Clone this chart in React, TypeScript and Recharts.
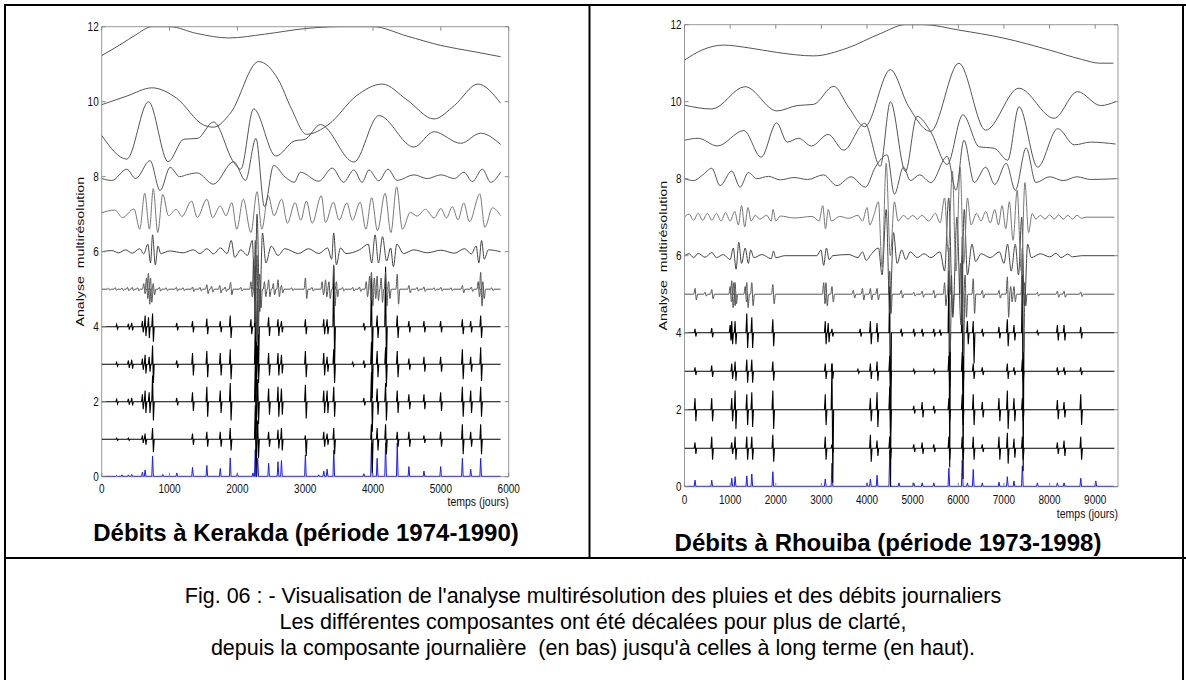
import { Line, LineChart, ReferenceArea, XAxis, YAxis } from "recharts";

type Pt = { x: number; y: number };

const FONT = '"Liberation Sans", Arial, Helvetica, sans-serif';

const yTicks = [0, 2, 4, 6, 8, 10, 12];
const kerTicks = [0, 1000, 2000, 3000, 4000, 5000, 6000];
const rhoTicks = [0, 1000, 2000, 3000, 4000, 5000, 6000, 7000, 8000, 9000];

// ---- Kerakda (left) : [day, value] for the smooth components
const kerA11 = [[0, 11.23], [300, 11.55], [500, 11.78], [740, 12.0], [1000, 12.0], [1400, 11.82], [1870, 11.7], [2400, 11.8], [3000, 11.95], [3500, 12.0], [4000, 12.0], [4500, 11.75], [5000, 11.5], [5500, 11.33], [5880, 11.2]];
const kerA10 = [[0, 9.92], [370, 10.15], [740, 10.37], [1100, 10.1], [1500, 9.38], [1650, 9.32], [1900, 9.7], [2313, 11.07], [2600, 10.6], [2800, 9.8], [3018, 9.13], [3350, 9.4], [3750, 10.15], [4135, 10.47], [4500, 10.05], [4898, 9.54], [5200, 9.9], [5546, 10.47], [5880, 9.96]];
const kerA9 = [[0, 9.1], [370, 8.47], [690, 10.0], [980, 8.4], [1210, 9.0], [1410, 9.02], [1648, 9.46], [1944, 8.39], [2050, 8.2], [2239, 9.81], [2567, 8.55], [2838, 8.95], [3000, 9.0], [3224, 9.39], [3717, 8.39], [4085, 9.63], [4602, 8.79], [4898, 9.2], [5292, 8.89], [5587, 9.16], [5880, 8.86]];
const kerA8 = [[0, 7.95], [150, 7.9], [370, 8.2], [500, 7.95], [713, 8.43], [861, 7.63], [1009, 8.25], [1150, 8.0], [1250, 8.05], [1410, 8.1], [1645, 7.8], [1946, 8.4], [2120, 7.9], [2274, 9.02], [2400, 7.2], [2535, 8.3], [2700, 8.0], [2838, 7.85], [2929, 8.12], [3200, 7.88], [3400, 8.23], [3566, 7.85], [3717, 8.18], [3840, 7.85], [3939, 8.18], [4085, 7.89], [4220, 8.2], [4357, 7.9], [4602, 8.05], [4800, 7.95], [5000, 8.05], [5200, 7.95], [5341, 8.12], [5464, 7.87], [5612, 8.2], [5735, 7.85], [5880, 8.12]];
// [day, offset from the level]
const kerD7 = [[0, 0.04], [194, 0.11], [307, -0.09], [476, 0.14], [561, -0.4], [634, 0.56], [704, -0.4], [760, 0.68], [826, -0.49], [900, 0.53], [985, -0.04], [1098, 0.13], [1183, -0.06], [1324, 0.35], [1409, -0.09], [1550, 0.4], [1635, -0.09], [1748, 0.22], [1833, -0.04], [1918, 0.31], [1991, -0.4], [2087, 0.4], [2200, -0.49], [2290, 0.6], [2360, -0.4], [2455, 0.49], [2540, -0.04], [2653, 0.4], [2738, -0.24], [2850, 0.31], [2935, -0.16], [3018, 0.35], [3103, -0.24], [3237, 0.49], [3300, -0.22], [3415, 0.32], [3500, -0.16], [3613, 0.3], [3697, -0.16], [3810, 0.32], [3895, -0.4], [3980, 0.44], [4065, -0.44], [4178, 0.56], [4263, -0.49], [4348, 0.73], [4433, -0.4], [4550, 0.05], [4650, -0.05], [4773, 0.13], [4900, -0.1], [5000, 0.15], [5083, -0.1], [5168, 0.2], [5253, -0.15], [5337, 0.3], [5422, -0.2], [5575, 0.54], [5648, -0.35], [5761, 0.17], [5880, -0.04]];
const kerD6 = [[0, 0], [150, 0.03], [250, -0.03], [350, 0.05], [450, -0.04], [560, 0.08], [620, -0.06], [680, 0.2], [720, -0.3], [750, 0.45], [790, -0.35], [830, 0.15], [870, -0.05], [1000, 0.02], [1200, -0.03], [1350, 0.05], [1450, -0.05], [1550, 0.08], [1650, -0.06], [1750, 0.1], [1850, -0.05], [1910, 0.3], [1960, -0.15], [2050, 0.05], [2150, -0.1], [2220, 0.3], [2260, -1.3], [2290, 1.0], [2330, -1.6], [2370, 0.5], [2420, -0.3], [2500, 0.15], [2600, -0.1], [2700, 0.08], [2900, -0.05], [3050, 0.08], [3200, -0.05], [3330, 0.1], [3390, -0.2], [3420, 0.5], [3460, -0.35], [3520, 0.1], [3600, -0.05], [3800, 0.05], [3930, 0.2], [3980, -0.3], [4030, 0.45], [4080, -0.3], [4140, 0.4], [4200, -0.25], [4260, 0.1], [4300, -0.4], [4350, 0.2], [4450, -0.05], [4600, 0.05], [4800, -0.03], [5000, 0.04], [5200, -0.04], [5350, 0.08], [5450, -0.06], [5520, 0.15], [5560, -0.3], [5600, 0.3], [5640, -0.2], [5700, 0.05], [5880, 0]];
// [day, up, down]
const kerD5 = [[100, 0.03, 0.03], [200, 0.04, 0.03], [300, 0.03, 0.03], [380, 0.05, 0.04], [450, 0.05, 0.04], [530, 0.04, 0.04], [620, 0.15, 0.12], [660, 0.3, 0.25], [689, 0.42, 0.4], [720, 0.3, 0.35], [760, 0.15, 0.15], [850, 0.05, 0.05], [950, 0.04, 0.04], [1100, 0.05, 0.05], [1200, 0.04, 0.04], [1340, 0.06, 0.06], [1450, 0.05, 0.05], [1550, 0.12, 0.12], [1620, 0.08, 0.08], [1740, 0.1, 0.1], [1820, 0.06, 0.06], [1900, 0.18, 0.15], [2050, 0.05, 0.05], [2200, 0.2, 0.2], [2240, 0.8, 0.9], [2264, 1.3, 1.4], [2290, 0.9, 1.2], [2330, 0.4, 0.5], [2400, 0.2, 0.2], [2461, 0.25, 0.2], [2530, 0.15, 0.15], [2600, 0.25, 0.2], [2650, 0.1, 0.1], [2800, 0.04, 0.04], [3003, 0.3, 0.25], [3100, 0.05, 0.05], [3250, 0.2, 0.15], [3300, 0.25, 0.2], [3350, 0.2, 0.25], [3421, 0.65, 0.45], [3460, 0.2, 0.2], [3550, 0.05, 0.05], [3700, 0.05, 0.05], [3800, 0.06, 0.06], [3900, 0.2, 0.2], [3950, 0.35, 0.3], [3977, 0.45, 0.45], [4020, 0.3, 0.25], [4061, 0.35, 0.3], [4120, 0.3, 0.35], [4185, 0.45, 0.45], [4230, 0.2, 0.25], [4357, 0.4, 0.4], [4529, 0.1, 0.1], [4650, 0.05, 0.05], [4750, 0.06, 0.06], [4900, 0.04, 0.04], [5000, 0.05, 0.05], [5150, 0.04, 0.04], [5317, 0.1, 0.1], [5450, 0.06, 0.06], [5550, 0.2, 0.2], [5587, 0.45, 0.45], [5620, 0.2, 0.25], [5750, 0.04, 0.04]];
const kerD4 = [[221, 0.06, 0.06], [394, 0.08, 0.08], [443, 0.1, 0.1], [600, 0.15, 0.15], [640, 0.3, 0.25], [690, 0.25, 0.3], [750, 0.35, 0.4], [1107, 0.1, 0.1], [1339, 0.15, 0.15], [1550, 0.22, 0.2], [1748, 0.15, 0.15], [1895, 0.3, 0.3], [2200, 0.2, 0.2], [2264, 1.6, 1.5], [2300, 1.0, 1.2], [2461, 0.25, 0.25], [2599, 0.2, 0.25], [2650, 0.15, 0.15], [3003, 0.2, 0.2], [3274, 0.2, 0.2], [3323, 0.2, 0.2], [3421, 1.6, 1.0], [3865, 0.1, 0.1], [3977, 1.3, 1.0], [4061, 0.3, 0.3], [4185, 1.6, 1.1], [4357, 0.3, 0.3], [4529, 0.15, 0.15], [4751, 0.15, 0.15], [4997, 0.15, 0.15], [5317, 0.2, 0.2], [5440, 0.15, 0.15], [5587, 0.3, 0.3]];
const kerD3 = [[221, 0.05, 0.05], [394, 0.1, 0.1], [443, 0.12, 0.12], [600, 0.15, 0.15], [640, 0.25, 0.25], [700, 0.2, 0.2], [750, 0.5, 0.5], [1107, 0.1, 0.1], [1339, 0.3, 0.3], [1550, 0.35, 0.35], [1748, 0.3, 0.3], [1895, 0.4, 0.4], [2264, 1.0, 1.0], [2300, 0.5, 0.5], [2461, 0.3, 0.3], [2599, 0.3, 0.3], [2650, 0.25, 0.25], [3003, 0.35, 0.35], [3274, 0.3, 0.3], [3323, 0.2, 0.2], [3421, 0.4, 0.5], [3700, 0.05, 0.05], [3865, 0.1, 0.1], [3977, 0.6, 0.9], [4061, 0.35, 0.35], [4185, 0.45, 0.6], [4357, 0.35, 0.35], [4529, 0.15, 0.15], [4751, 0.2, 0.2], [4997, 0.2, 0.2], [5317, 0.4, 0.4], [5440, 0.2, 0.2], [5587, 0.45, 0.45]];
const kerD2 = [[221, 0.06, 0.06], [394, 0.08, 0.08], [443, 0.1, 0.1], [600, 0.2, 0.2], [640, 0.3, 0.3], [700, 0.25, 0.3], [750, 0.7, 0.5], [1107, 0.1, 0.1], [1339, 0.25, 0.25], [1550, 0.4, 0.4], [1748, 0.3, 0.3], [1895, 0.5, 0.5], [2264, 1.0, 1.0], [2300, 0.6, 0.6], [2461, 0.35, 0.35], [2599, 0.4, 0.4], [2650, 0.35, 0.35], [3003, 0.45, 0.45], [3274, 0.3, 0.3], [3323, 0.3, 0.3], [3421, 0.4, 0.4], [3865, 0.1, 0.1], [3977, 0.8, 0.8], [4061, 0.35, 0.35], [4185, 0.5, 0.5], [4357, 0.3, 0.3], [4529, 0.2, 0.2], [4751, 0.2, 0.2], [4997, 0.25, 0.25], [5317, 0.4, 0.4], [5440, 0.3, 0.3], [5587, 0.4, 0.4]];
const kerD1 = [[221, 0.03, 0.03], [394, 0.03, 0.03], [600, 0.1, 0.1], [640, 0.15, 0.15], [750, 0.3, 0.35], [1339, 0.15, 0.15], [1550, 0.2, 0.2], [1748, 0.2, 0.2], [1895, 0.3, 0.3], [2264, 0.9, 1.0], [2300, 0.5, 0.5], [2461, 0.2, 0.2], [2599, 0.25, 0.25], [2650, 0.3, 0.3], [3003, 0.1, 0.45], [3274, 0.2, 0.2], [3323, 0.15, 0.15], [3421, 0.3, 0.4], [3977, 0.4, 0.9], [4061, 0.3, 0.3], [4185, 0.4, 0.4], [4357, 0.2, 0.2], [4529, 0.2, 0.2], [4751, 0.1, 0.1], [4997, 0.2, 0.2], [5317, 0.4, 0.4], [5440, 0.2, 0.2], [5587, 0.4, 0.4]];
// daily flow [day, value]
const kerQ = [[221, 0.03], [300, 0.05], [394, 0.05], [443, 0.06], [600, 0.12], [640, 0.18], [750, 0.55], [900, 0.06], [1107, 0.1], [1339, 0.25], [1550, 0.3], [1748, 0.22], [1895, 0.5], [2000, 0.1], [2230, 0.1], [2264, 0.72], [2300, 0.5], [2461, 0.36], [2599, 0.4], [2650, 0.43], [3003, 0.58], [3200, 0.05], [3274, 0.15], [3323, 0.2], [3421, 0.71], [3865, 0.08], [3977, 0.9], [4061, 0.49], [4185, 0.9], [4357, 0.9], [4529, 0.27], [4751, 0.15], [4997, 0.27], [5317, 0.49], [5440, 0.2], [5587, 0.49]];

// ---- Rhouiba (right)
const rhoA11 = [[0, 11.08], [400, 11.35], [853, 11.47], [1400, 11.4], [2024, 11.28], [2829, 11.19], [3560, 11.39], [4293, 11.77], [4842, 12.0], [5244, 12.0], [6013, 11.86], [7000, 11.65], [8004, 11.34], [8700, 11.1], [9100, 11.0], [9400, 11.0]];
const rhoA10 = [[0, 9.91], [597, 9.81], [1328, 10.39], [2024, 9.76], [2470, 9.9], [2829, 9.93], [3268, 10.4], [3600, 9.85], [3950, 9.35], [4513, 10.83], [4900, 9.9], [5391, 9.23], [6013, 11.0], [6599, 9.26], [7327, 10.35], [8100, 9.57], [8612, 10.26], [9120, 9.9], [9450, 10.0]];
const rhoA9 = [[0, 9.0], [300, 9.05], [720, 8.85], [1300, 9.25], [1680, 8.56], [2020, 9.45], [2250, 8.95], [2500, 9.05], [2780, 8.85], [3150, 9.15], [3488, 8.74], [3950, 9.44], [4290, 8.32], [4513, 10.0], [4842, 8.19], [5094, 9.62], [5391, 9.23], [5757, 8.37], [6100, 9.66], [6459, 8.83], [6789, 8.79], [7082, 8.48], [7331, 9.87], [7740, 8.3], [8179, 9.3], [8545, 8.88], [8900, 8.95], [9450, 8.9]];
const rhoA8 = [[0, 8.0], [200, 7.95], [400, 8.1], [597, 8.27], [779, 7.82], [1035, 8.2], [1218, 7.78], [1401, 8.16], [1584, 8.0], [1840, 8.06], [2100, 7.97], [2400, 8.03], [2700, 7.98], [3047, 8.1], [3340, 7.82], [3650, 8.05], [3963, 7.78], [4183, 8.3], [4440, 8.62], [4600, 7.6], [4800, 8.3], [4950, 7.95], [5150, 8.1], [5400, 7.9], [5757, 8.58], [5950, 7.7], [6123, 9.0], [6350, 7.9], [6600, 8.3], [6800, 7.85], [7050, 8.4], [7250, 7.7], [7487, 8.8], [7700, 7.9], [8000, 8.05], [8300, 7.95], [8600, 8.05], [8900, 7.98], [9450, 8.0]];
const rhoD7 = [[0, 0], [100, 0.08], [200, -0.08], [300, 0.1], [400, -0.08], [500, 0.1], [600, -0.08], [700, 0.1], [800, -0.1], [900, 0.12], [1000, -0.1], [1100, 0.15], [1180, -0.2], [1250, 0.3], [1320, -0.25], [1390, 0.25], [1460, -0.1], [1550, 0.05], [1650, -0.05], [1800, 0.05], [1900, -0.1], [1940, 0.2], [2000, -0.1], [2100, 0.03], [2400, -0.02], [2800, 0.02], [2950, -0.1], [3030, 0.3], [3090, -0.3], [3150, 0.2], [3220, -0.1], [3400, 0.02], [3600, -0.03], [3800, 0.05], [3900, -0.1], [4000, 0.25], [4060, -0.2], [4150, 0.05], [4250, 0.4], [4330, -1.3], [4420, 1.4], [4510, -1.0], [4600, 0.4], [4680, -0.1], [4800, 0.05], [4900, -0.05], [5000, 0.05], [5100, -0.05], [5200, 0.05], [5350, -0.1], [5500, 0.1], [5600, -0.15], [5700, 0.5], [5780, -0.9], [5870, 1.2], [5950, -1.4], [6040, 1.3], [6120, -1.2], [6200, 0.5], [6280, -0.2], [6400, 0.1], [6500, -0.1], [6600, 0.15], [6700, -0.15], [6800, 0.2], [6880, -0.2], [6960, 0.3], [7040, -0.3], [7120, 0.4], [7200, -0.6], [7290, 0.7], [7380, -1.4], [7460, 0.9], [7540, -0.4], [7620, 0.1], [7700, -0.05], [7800, 0.05], [7900, -0.05], [8000, 0.06], [8100, -0.05], [8200, 0.06], [8300, -0.05], [8400, 0.05], [8500, -0.05], [8600, 0.05], [8700, -0.03], [8800, 0], [9420, 0]];
const rhoD6 = [[0, 0], [100, 0.05], [200, -0.05], [300, 0.06], [450, -0.04], [600, 0.08], [700, -0.05], [850, 0.03], [1000, -0.1], [1070, 0.2], [1130, -0.35], [1190, 0.35], [1250, -0.2], [1330, 0.2], [1400, -0.2], [1450, 0.15], [1520, -0.05], [1700, 0.03], [1900, -0.08], [1950, 0.12], [2000, -0.05], [2200, 0], [2900, 0], [2990, 0.15], [3050, -0.25], [3110, 0.2], [3170, -0.1], [3250, 0], [3600, 0.03], [3800, -0.05], [3900, 0.1], [3980, -0.12], [4100, 0.05], [4250, 0.2], [4330, -0.5], [4420, 1.2], [4500, -1.5], [4580, 0.6], [4660, -0.2], [4760, 0.15], [4850, -0.1], [4950, 0.1], [5100, -0.05], [5250, 0.05], [5400, -0.05], [5600, 0.1], [5700, -0.4], [5790, 1.5], [5880, -1.6], [5970, 1.0], [6060, -1.8], [6130, 1.2], [6200, -0.5], [6300, 0.3], [6380, -0.15], [6500, 0.05], [6700, -0.05], [6900, 0.1], [7000, -0.2], [7080, 0.3], [7160, -0.4], [7250, 0.3], [7320, -0.5], [7390, 1.0], [7450, -1.3], [7520, 0.3], [7600, -0.05], [7800, 0.05], [8000, -0.03], [8150, 0.06], [8250, -0.05], [8400, 0.04], [8500, -0.03], [8700, 0], [9420, 0]];
const rhoD5 = [[231, 0.15, 0.15], [450, 0.05, 0.05], [597, 0.12, 0.12], [1000, 0.2, 0.2], [1036, 0.35, 0.35], [1080, 0.3, 0.3], [1109, 0.3, 0.25], [1330, 0.2, 0.2], [1365, 0.3, 0.35], [1475, 0.3, 0.3], [1936, 0.25, 0.25], [3050, 0.3, 0.25], [3100, 0.3, 0.3], [3232, 0.2, 0.2], [3700, 0.1, 0.1], [3900, 0.15, 0.15], [4074, 0.15, 0.15], [4220, 0.15, 0.15], [4498, 0.6, 0.5], [4750, 0.1, 0.1], [5025, 0.05, 0.05], [5208, 0.08, 0.08], [5464, 0.1, 0.1], [5700, 0.3, 0.3], [5794, 1.2, 1.5], [5850, 0.5, 0.5], [6050, 0.8, 0.8], [6087, 1.5, 1.6], [6150, 0.5, 0.6], [6328, 0.4, 0.5], [6526, 0.1, 0.1], [6892, 0.1, 0.1], [7075, 0.45, 0.6], [7150, 0.2, 0.2], [7221, 0.2, 0.2], [7404, 1.2, 1.5], [7450, 0.3, 0.3], [7733, 0.05, 0.05], [8172, 0.08, 0.08], [8318, 0.08, 0.08], [8684, 0.06, 0.06]];
const rhoD4 = [[231, 0.1, 0.1], [597, 0.12, 0.12], [1000, 0.2, 0.2], [1036, 0.3, 0.3], [1109, 0.3, 0.3], [1365, 0.5, 0.4], [1475, 0.4, 0.4], [1936, 0.35, 0.35], [3085, 0.3, 0.3], [3150, 0.25, 0.25], [3232, 0.1, 0.1], [3850, 0.1, 0.1], [4074, 0.3, 0.3], [4220, 0.25, 0.25], [4498, 1.2, 4.0], [4750, 0.1, 0.1], [5025, 0.1, 0.1], [5208, 0.1, 0.1], [5464, 0.1, 0.1], [5600, 0.08, 0.08], [5794, 1.6, 3.5], [6087, 2.0, 3.8], [6200, 0.3, 0.3], [6328, 0.3, 0.8], [6526, 0.1, 0.1], [6892, 0.15, 0.15], [7075, 0.35, 0.35], [7221, 0.2, 0.2], [7404, 1.5, 3.6], [7733, 0.05, 0.05], [8172, 0.2, 0.2], [8318, 0.2, 0.2], [8684, 0.15, 0.15]];
const rhoD3 = [[231, 0.1, 0.1], [597, 0.15, 0.15], [1036, 0.2, 0.2], [1109, 0.25, 0.25], [1365, 0.3, 0.3], [1475, 0.3, 0.3], [1936, 0.25, 0.25], [3085, 0.2, 0.2], [3232, 0.2, 0.2], [3800, 0.05, 0.05], [4074, 0.2, 0.2], [4220, 0.25, 0.25], [4498, 0.4, 0.4], [5025, 0.05, 0.05], [5464, 0.05, 0.05], [5794, 0.4, 0.4], [6087, 0.5, 0.5], [6328, 0.2, 0.2], [6526, 0.1, 0.1], [7075, 0.2, 0.2], [7221, 0.1, 0.1], [7404, 0.3, 0.3], [8172, 0.1, 0.1], [8318, 0.1, 0.1], [8684, 0.1, 0.1]];
const rhoD2 = [[231, 0.3, 0.3], [597, 0.3, 0.3], [1036, 0.3, 0.3], [1109, 0.5, 0.5], [1365, 0.4, 0.4], [1475, 0.45, 0.45], [1936, 0.5, 0.5], [3085, 0.4, 0.4], [3232, 1.2, 1.9], [4074, 0.3, 0.3], [4220, 0.45, 0.45], [4498, 0.6, 0.6], [5025, 0.1, 0.1], [5208, 0.2, 0.2], [5464, 0.1, 0.1], [5794, 0.3, 0.3], [6087, 0.4, 0.4], [6328, 0.4, 0.4], [6526, 0.2, 0.2], [6892, 0.3, 0.3], [7075, 0.5, 0.5], [7221, 0.3, 0.3], [7404, 0.3, 0.3], [8172, 0.25, 0.25], [8318, 0.2, 0.2], [8684, 0.4, 0.4]];
const rhoD1 = [[231, 0.15, 0.15], [597, 0.3, 0.3], [1036, 0.15, 0.15], [1109, 0.3, 0.3], [1365, 0.3, 0.3], [1475, 0.3, 0.3], [1936, 0.35, 0.35], [3085, 0.3, 0.3], [3232, 0.1, 0.1], [4074, 0.35, 0.35], [4220, 0.2, 0.2], [4498, 0.3, 0.3], [5025, 0.1, 0.1], [5208, 0.15, 0.15], [5464, 0.1, 0.1], [5794, 0.3, 0.3], [6087, 0.3, 0.3], [6328, 0.3, 0.3], [6526, 0.1, 0.1], [6892, 0.3, 0.3], [7075, 0.4, 0.4], [7221, 0.25, 0.25], [7404, 0.3, 0.3], [8172, 0.15, 0.15], [8318, 0.2, 0.2], [8684, 0.3, 0.3]];
const rhoQ = [[231, 0.17], [597, 0.17], [1036, 0.22], [1109, 0.26], [1365, 0.28], [1475, 0.33], [1936, 0.39], [3085, 0.2], [3232, 0.61], [4000, 0.1], [4074, 0.2], [4220, 0.3], [4498, 0.95], [4700, 0.1], [5025, 0.1], [5208, 0.1], [5464, 0.1], [5794, 0.48], [6087, 0.69], [6200, 0.1], [6328, 0.45], [6526, 0.1], [6892, 0.12], [7075, 0.26], [7221, 0.15], [7404, 0.54], [7733, 0.1], [8172, 0.1], [8318, 0.1], [8684, 0.22], [9014, 0.15]];

const curve = (pts: number[][]): Pt[] => pts.map(([x, y]) => ({ x, y }));
const wave = (base: number, pts: number[][]): Pt[] => pts.map(([x, d]) => ({ x, y: base + d }));
const spikes = (base: number, list: number[][], end: number, h: number): Pt[] => {
  const out: Pt[] = [{ x: 0, y: base }];
  list.forEach(([x, up, down]) => {
    out.push({ x: x - h, y: base }, { x, y: base + up }, { x: x + h, y: base - down }, { x: x + 2 * h, y: base });
  });
  out.push({ x: end, y: base });
  return out;
};
const flow = (list: number[][], end: number, h: number): Pt[] => {
  const out: Pt[] = [{ x: 0, y: 0.01 }];
  list.forEach(([x, v]) => {
    out.push({ x: x - h, y: 0.01 }, { x, y: v }, { x: x + h, y: 0.01 });
  });
  out.push({ x: end, y: 0.01 });
  return out;
};

type Series = { data: Pt[]; color: string; smooth?: boolean; width?: number };

function buildSeries(q: number[][], d: number[][][], d5: number[][], d6: number[][], d7: number[][], a: number[][][], end: number, h: number): Series[] {
  return [
    { data: flow(q, end, h), color: "#1a1aff" },
    ...d.map((s, i) => ({ data: spikes(i + 1, s, end, h), color: "#000", width: 1.1 })),
    { data: spikes(5, d5, end, h * 1.6), color: "#555", smooth: true },
    { data: wave(6, d6), color: "#444", smooth: true },
    { data: wave(7, d7), color: "#777", smooth: true },
    ...a.map((s) => ({ data: curve(s), color: "#555", smooth: true })),
  ];
}

const kerSeries = buildSeries(kerQ, [kerD1, kerD2, kerD3, kerD4], kerD5, kerD6, kerD7, [kerA8, kerA9, kerA10, kerA11], 5880, 12);
const rhoSeries = buildSeries(rhoQ, [rhoD1, rhoD2, rhoD3, rhoD4], rhoD5, rhoD6, rhoD7, [rhoA8, rhoA9, rhoA10, rhoA11], 9420, 18);

type Geo = { left: number; w: number; h: number; L: number; T: number; R: number; B: number; labY: number; tempsY: number };

function Panel({ g, xMax, xTicks, series }: { g: Geo; xMax: number; xTicks: number[]; series: Series[] }) {
  const txt = { fontFamily: FONT, fill: "#111" };
  const renderX = (p: any) => {
    const x = p.x;
    return (
      <g>
        <line x1={x} x2={x} y1={g.B} y2={g.B - 4} stroke="#888" />
        <line x1={x} x2={x} y1={g.T} y2={g.T + 4} stroke="#888" />
        <text {...txt} fontSize={10} textAnchor="middle" transform={`translate(${x},${g.B + g.labY}) scale(1,1.3)`}>
          {p.payload.value}
        </text>
      </g>
    );
  };
  const renderY = (p: any) => {
    const y = p.y;
    return (
      <g>
        <line x1={g.L} x2={g.L + 4} y1={y} y2={y} stroke="#888" />
        <line x1={g.R - 4} x2={g.R} y1={y} y2={y} stroke="#888" />
        <text {...txt} fontSize={10} textAnchor="end" transform={`translate(${g.L - 3},${y + 4.6}) scale(1,1.3)`}>
          {p.payload.value}
        </text>
      </g>
    );
  };
  return (
    <div style={{ position: "absolute", left: g.left, top: 0, width: g.w, height: g.h }}>
      <LineChart
        width={g.w}
        height={g.h}
        margin={{ top: g.T, left: g.L - 30, right: g.w - g.R, bottom: g.h - g.B - 30 }}
      >
        <XAxis type="number" dataKey="x" domain={[0, xMax]} ticks={xTicks} allowDataOverflow height={30} axisLine={false} tickLine={false} tick={renderX} interval={0} />
        <YAxis type="number" domain={[0, 12]} ticks={yTicks} allowDataOverflow width={30} axisLine={false} tickLine={false} tick={renderY} interval={0} />
        <ReferenceArea x1={0} x2={xMax} y1={0} y2={12} fill="none" stroke="#999" strokeWidth={1} ifOverflow="visible" />
        {series.map((s, i) => (
          <Line
            key={i}
            data={s.data}
            dataKey="y"
            type={s.smooth ? "monotoneX" : "linear"}
            stroke={s.color}
            strokeWidth={s.width ?? 1}
            dot={false}
            activeDot={false}
            isAnimationActive={false}
          />
        ))}
      </LineChart>
      <svg width={g.w} height={g.h} style={{ position: "absolute", left: 0, top: 0, pointerEvents: "none" }}>
        <text {...txt} fontSize={10.5} textAnchor="end" transform={`translate(${g.R},${g.B + g.tempsY}) scale(1,1.3)`}>
          temps (jours)
        </text>
        <text
          {...txt}
          fontSize={10.5}
          textAnchor="middle"
          style={{ whiteSpace: "pre" }}
          transform={`translate(${g.L - 18},${(g.T + g.B) / 2}) rotate(-90) scale(1.35,1)`}
        >
          {"Analyse  multirésolution"}
        </text>
      </svg>
    </div>
  );
}

const kerGeo: Geo = { left: 0, w: 592, h: 560, L: 101.7, T: 26.7, R: 508.7, B: 476.7, labY: 16.6, tempsY: 29 };
const rhoGeo: Geo = { left: 592, w: 594, h: 560, L: 92.5, T: 24.7, R: 526, B: 486.7, labY: 17.3, tempsY: 31 };

export default function App() {
  return (
    <div style={{ position: "absolute", left: 0, top: 0, width: 1186, height: 680, background: "#fff", overflow: "hidden" }}>
      <Panel g={kerGeo} xMax={6000} xTicks={kerTicks} series={kerSeries} />
      <Panel g={rhoGeo} xMax={9500} xTicks={rhoTicks} series={rhoSeries} />
      <svg width={1186} height={680} style={{ position: "absolute", left: 0, top: 0, pointerEvents: "none" }}>
        <g stroke="#000" strokeWidth={2}>
          <line x1={4} x2={1186} y1={5} y2={5} />
          <line x1={5} x2={5} y1={4} y2={680} />
          <line x1={589.5} x2={589.5} y1={4} y2={558} />
          <line x1={4} x2={1186} y1={558} y2={558} />
          <line x1={1183} x2={1183} y1={4} y2={680} />
        </g>
        <g fontFamily={FONT} fill="#000">
          <text x={306} y={541} fontSize={24} fontWeight="bold" textAnchor="middle">
            Débits à Kerakda (période 1974-1990)
          </text>
          <text x={888} y={551} fontSize={24} fontWeight="bold" textAnchor="middle">
            Débits à Rhouiba (période 1973-1998)
          </text>
          <text x={593} y={603} fontSize={21.5} textAnchor="middle">
            Fig. 06 : - Visualisation de l'analyse multirésolution des pluies et des débits journaliers
          </text>
          <text x={593} y={629} fontSize={21.5} textAnchor="middle">
            Les différentes composantes ont été décalées pour plus de clarté,
          </text>
          <text x={593} y={655} fontSize={21.5} textAnchor="middle" style={{ whiteSpace: "pre" }}>
            {"depuis la composante journalière  (en bas) jusqu'à celles à long terme (en haut)."}
          </text>
        </g>
      </svg>
    </div>
  );
}
